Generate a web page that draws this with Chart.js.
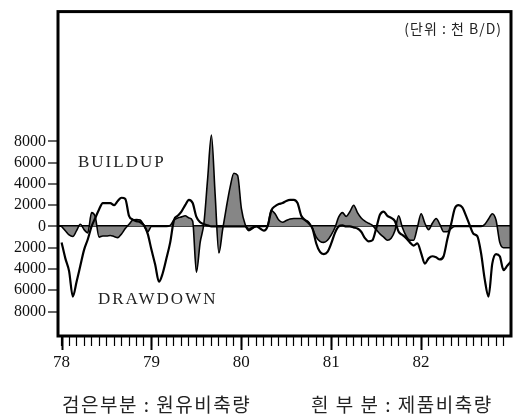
<!DOCTYPE html>
<html><head><meta charset="utf-8">
<script src="https://cdn.jsdelivr.net/npm/chart.js@4"></script>
<style>html,body{margin:0;padding:0;background:#fff;}canvas{display:block;}</style>
</head><body>
<canvas id="c" width="525" height="419"></canvas>
<script>
// half-month steps starting at 78.0
const startYear = 78;
const stepsPerYear = 24;
const crude = [
  0,-400,-800,-950,-400,200,-300,-600,1300,900,-1000,-900,-900,-850,-950,-1050,-700,-200,200,600,650,600,100,-500,
  0,0,0,0,0,100,600,800,900,1000,800,500,-4300,-1500,300,4500,8600,3000,-2500,-300,1800,3700,5000,4800,
  1700,200,-400,-200,0,0,0,100,1500,1200,600,400,550,700,750,750,750,600,400,-200,-1000,-1400,-1500,-1300,
  -800,-100,900,1300,950,1400,2000,1300,800,500,300,100,-300,-700,-1000,-1300,-1100,-400,1000,-100,-900,-1300,-1300,-100,
  1200,300,-300,300,750,200,-500,-500,-200,0,0,0,0,0,0,0,0,200,700,1200,600,-1500,-2000,-2000,
  -2000
];
const product = [
  -1500,-3000,-4200,-6600,-5200,-3700,-2200,-1200,0,800,1600,2200,2200,2200,2000,2400,2700,2600,1000,650,500,400,100,-700,
  -2200,-3600,-5200,-4400,-3000,-1500,600,1000,1400,2000,2500,2200,900,400,200,100,0,0,0,0,0,0,0,0,
  0,0,-300,-100,0,-200,-400,0,1500,1900,2100,2200,2400,2500,2500,2200,1000,600,300,-200,-1600,-2400,-2600,-2400,
  -1600,-600,0,100,0,0,-100,-200,-500,-1100,-1400,-1300,-200,1100,1400,1000,800,500,-500,-800,-1100,-1500,-1800,-1600,
  -2500,-3500,-3000,-2800,-2900,-3100,-2800,-1200,200,1700,2000,1800,1000,100,-700,-900,-2500,-5000,-6600,-3500,-2600,-2800,-4100,-3700,
  -3300
];
const yearTicks = [78, 79, 80, 81, 82];
const yTickValues = [-8000, -6000, -4000, -2000, 0, 2000, 4000, 6000, 8000];
const unitLabel = '(단위 : 천 B/D)';
const buildupLabel = 'BUILDUP';
const drawdownLabel = 'DRAWDOWN';
const captionCrude = '검은부분 : 원유비축량';
const captionProduct = '흰 부 분 : 제품비축량';

const toPts = arr => arr.map((v, i) => ({x: startYear + i / stepsPerYear, y: v}));
const serif = "'Liberation Serif','DejaVu Serif',serif";
const kr = "'Noto Sans CJK KR','Noto Sans',sans-serif";

const deco = {
  id: 'deco',
  afterDraw(chart) {
    const {ctx, chartArea: a, scales: {x, y}} = chart;
    ctx.save();
    ctx.strokeStyle = '#000';
    ctx.lineWidth = 3;
    ctx.strokeRect(a.left, a.top, a.right - a.left, a.bottom - a.top);
    ctx.lineWidth = 2;
    yearTicks.forEach(yr => {
      const px = Math.round(x.getPixelForValue(yr)) + 0.5;
      ctx.beginPath(); ctx.moveTo(px, a.bottom); ctx.lineTo(px, a.bottom + 14); ctx.stroke();
    });
    ctx.fillStyle = '#222';
    ctx.textBaseline = 'middle';
    ctx.font = '14px ' + kr;
    ctx.letterSpacing = '1px';
    ctx.textAlign = 'right';
    ctx.fillText(unitLabel, 502, 29);
    ctx.textAlign = 'left';
    ctx.font = '17px ' + serif;
    ctx.letterSpacing = '2px';
    ctx.fillText(buildupLabel, 78, 163);
    ctx.fillText(drawdownLabel, 98, 300);
    ctx.font = '19px ' + kr;
    ctx.letterSpacing = '1.5px';
    ctx.fillText(captionCrude, 62, 405);
    ctx.fillText(captionProduct, 311, 405);
    ctx.restore();
  }
};

new Chart(document.getElementById('c'), {
  type: 'line',
  data: {
    datasets: [
      {label: 'product', data: toPts(product), borderColor: '#000', borderWidth: 2.2, fill: false,
       pointRadius: 0, cubicInterpolationMode: 'monotone'},
      {label: 'crude', data: toPts(crude), borderColor: '#000', borderWidth: 1.6, backgroundColor: '#868686',
       fill: 'origin', pointRadius: 0, cubicInterpolationMode: 'monotone'}
    ]
  },
  options: {
    responsive: false,
    animation: false,
    devicePixelRatio: 1,
    layout: {padding: {left: 0, top: 10, right: 14, bottom: 0}},
    plugins: {legend: {display: false}, tooltip: {enabled: false}},
    scales: {
      x: {
        type: 'linear', min: 77.96, max: 83,
        afterBuildTicks: s => { const t = []; for (let m = 0; m < 60; m++) t.push({value: startYear + m / 12}); s.ticks = t; },
        afterFit: s => { s.height = 83; },
        ticks: {autoSkip: false, maxRotation: 0, padding: 6, color: '#111', font: {family: serif, size: 17},
          callback: v => Math.abs(v - Math.round(v)) < 1e-6 ? String(Math.round(v)) : ''},
        grid: {drawOnChartArea: false, tickLength: 10, color: '#000', tickColor: '#000', tickWidth: 1.2},
        border: {display: false}
      },
      y: {
        min: -10300, max: 20200,
        afterBuildTicks: s => { s.ticks = yTickValues.map(v => ({value: v})); },
        afterFit: s => { s.width = 58; },
        ticks: {padding: 2, color: '#111', font: {family: serif, size: 16}, callback: v => String(Math.abs(v))},
        grid: {
          color: c => (c.tick && c.tick.value === 0) ? '#000' : 'rgba(0,0,0,0)',
          lineWidth: c => (c.tick && c.tick.value === 0) ? 2 : 0,
          tickColor: '#000', tickLength: 10, tickWidth: 1.2
        },
        border: {display: false}
      }
    }
  },
  plugins: [deco]
});
</script>
</body></html>
